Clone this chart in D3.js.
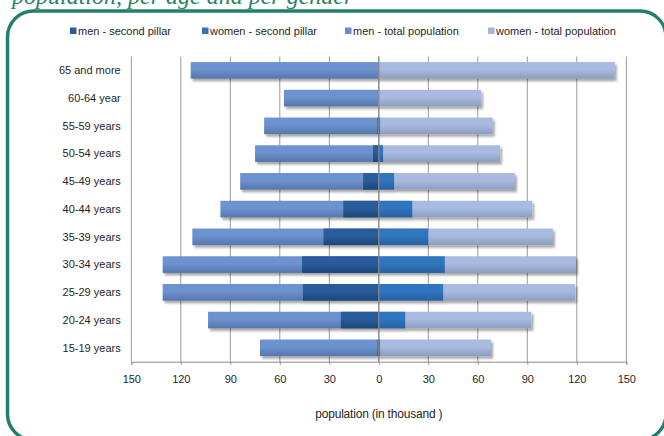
<!DOCTYPE html>
<html>
<head>
<meta charset="utf-8">
<script src="https://cdn.jsdelivr.net/npm/d3@7"></script>
<style>
  html, body { margin: 0; padding: 0; background: #ffffff; }
  svg { display: block; }
  text { font-family: "Liberation Sans", Arial, sans-serif; fill: #262626; }
</style>
</head>
<body>
<svg id="chart" width="664" height="436"></svg>
<script>
// Age groups, top to bottom
const ageGroups = ["65 and more", "60-64 year", "55-59 years", "50-54 years", "45-49 years",
  "40-44 years", "35-39 years", "30-34 years", "25-29 years", "20-24 years", "15-19 years"];

// Population in thousand
const menTotal    = [114, 57.5, 69.5, 75, 84, 96, 113, 131, 131, 103.5, 72];
const womenTotal  = [143, 62, 69, 73.5, 82.5, 93, 105.5, 119.5, 119, 92.5, 68];
const menPillar   = [0, 0, 0.8, 3.5, 9.5, 21.5, 33.5, 46.5, 46, 23, 0.8];
const womenPillar = [0, 0, 0.8, 2.6, 9.3, 20.3, 30, 40, 39, 16, 0.8];

const tickValues = [-150, -120, -90, -60, -30, 0, 30, 60, 90, 120, 150];
const seriesNames = ["men - second pillar", "women - second pillar", "men - total population", "women - total population"];

const svg = d3.select("#chart");
const defs = svg.append("defs");

// vertical gradients for the bar fills
function gradient(id, top, bottom) {
  const g = defs.append("linearGradient").attr("id", id)
    .attr("x1", 0).attr("y1", 0).attr("x2", 0).attr("y2", 1);
  g.append("stop").attr("offset", "0%").attr("stop-color", top);
  g.append("stop").attr("offset", "45%").attr("stop-color", top);
  g.append("stop").attr("offset", "100%").attr("stop-color", bottom);
}
gradient("gMenPillar", "#2b5c9c", "#1c4677");
gradient("gWomenPillar", "#2f76bd", "#2a5f9f");
gradient("gMenTotal", "#6c92cf", "#5676ab");
gradient("gWomenTotal", "#a8badf", "#8c9dbf");

const shadow = defs.append("filter").attr("id", "shadow")
  .attr("x", "-5%").attr("y", "-20%").attr("width", "115%").attr("height", "160%");
shadow.append("feDropShadow").attr("dx", 2).attr("dy", 2.5)
  .attr("stdDeviation", 1.2).attr("flood-color", "#000").attr("flood-opacity", 0.35);

// frame and heading
svg.append("text")
  .attr("x", 12).attr("y", 3.5)
  .style("font-family", "'Liberation Serif', 'DejaVu Serif', serif")
  .style("font-style", "italic")
  .style("font-size", "24px")
  .style("fill", "#2a8269")
  .text("population, per age and per gender");

svg.append("rect")
  .attr("x", 7.5).attr("y", 11).attr("width", 658.5).attr("height", 429)
  .attr("rx", 26).attr("ry", 26)
  .attr("fill", "none").attr("stroke", "#22806a").attr("stroke-width", 3.5);

// scales
const x = d3.scaleLinear().domain([-150, 150]).range([131.3, 626.3]);
const y = d3.scaleBand().domain(ageGroups).range([56.5, 361.7])
  .paddingInner(0.4).paddingOuter(0.2);

// gridlines
svg.append("g").selectAll("line").data(tickValues).join("line")
  .attr("x1", d => x(d)).attr("x2", d => x(d))
  .attr("y1", 56.5).attr("y2", 361.7)
  .attr("stroke", "#9a9a9a").attr("stroke-width", 1);

// bars
const rows = ageGroups.map((g, i) => ({
  group: g, menTotal: menTotal[i], womenTotal: womenTotal[i],
  menPillar: menPillar[i], womenPillar: womenPillar[i]
}));

const bars = svg.append("g").attr("filter", "url(#shadow)");
function drawSeries(key, sign, fill) {
  bars.append("g").selectAll("rect").data(rows.filter(r => r[key] > 0)).join("rect")
    .attr("x", d => sign < 0 ? x(-d[key]) : x(0))
    .attr("width", d => Math.abs(x(sign * d[key]) - x(0)))
    .attr("y", d => y(d.group))
    .attr("height", y.bandwidth())
    .attr("fill", fill);
}
drawSeries("menTotal", -1, "url(#gMenTotal)");
drawSeries("womenTotal", 1, "url(#gWomenTotal)");
drawSeries("menPillar", -1, "url(#gMenPillar)");
drawSeries("womenPillar", 1, "url(#gWomenPillar)");

// vertical axis line at zero
svg.append("line")
  .attr("x1", x(0)).attr("x2", x(0)).attr("y1", 56.5).attr("y2", 361.7)
  .attr("stroke", "#8a8a8a").attr("stroke-width", 1.2);

// category labels
svg.append("g").selectAll("text").data(ageGroups).join("text")
  .attr("x", 120.7)
  .attr("y", d => y(d) + y.bandwidth() / 2)
  .attr("dy", "0.35em")
  .attr("text-anchor", "end")
  .style("font-size", "11px")
  .text(d => d);

// horizontal axis
const xAxis = d3.axisBottom(x).tickValues(tickValues).tickSize(3).tickPadding(11)
  .tickFormat(d => Math.abs(d));
const ax = svg.append("g").attr("transform", "translate(0,361.7)").call(xAxis);
ax.select(".domain").attr("stroke", "#8a8a8a");
ax.selectAll(".tick line").attr("stroke", "#8a8a8a");
ax.selectAll(".tick text").style("font-size", "11px").style("fill", "#262626")
  .style("font-family", "'Liberation Sans', Arial, sans-serif");

svg.append("text")
  .attr("x", x(0)).attr("y", 418)
  .attr("text-anchor", "middle")
  .style("font-size", "12px")
  .style("letter-spacing", "-0.2px")
  .text("population (in thousand )");

// legend
const legendColors = ["#2c5a95", "#2f74b6", "#6a8cc7", "#a4b5d9"];
const legendX = [70, 202, 345, 488];
const legend = svg.append("g").selectAll("g").data(seriesNames).join("g")
  .attr("transform", (d, i) => `translate(${legendX[i]},31)`);
legend.append("rect").attr("x", 0).attr("y", -3.5).attr("width", 6.5).attr("height", 6.5)
  .attr("fill", (d, i) => legendColors[i]);
legend.append("text").attr("x", 8).attr("dy", "0.35em")
  .style("font-size", "11px")
  .text(d => d);
</script>
</body>
</html>
